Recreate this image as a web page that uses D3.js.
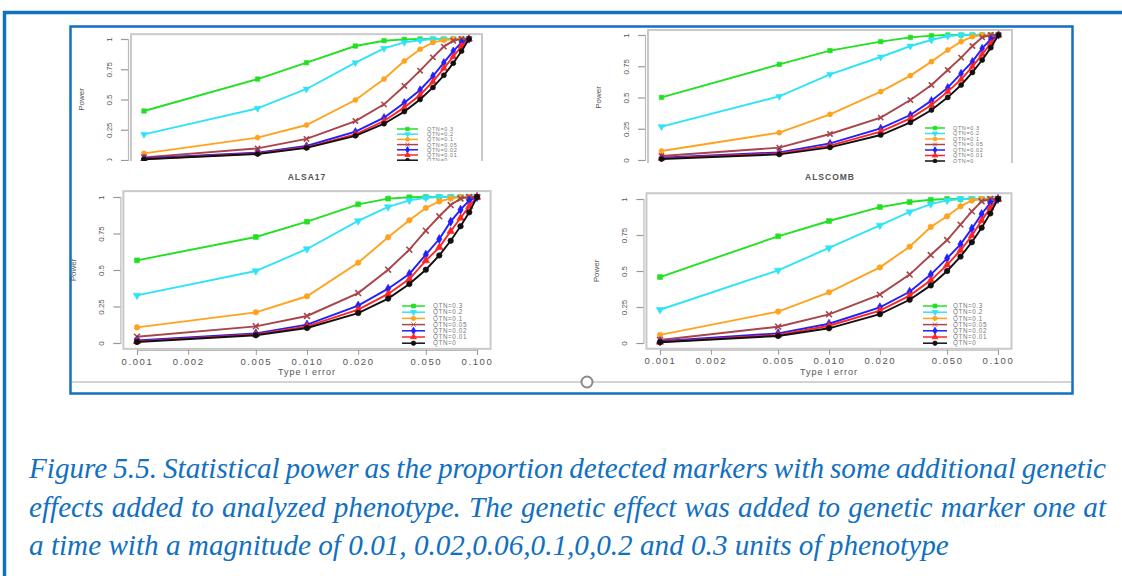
<!DOCTYPE html>
<html><head><meta charset="utf-8">
<script src="https://cdn.jsdelivr.net/npm/d3@7/dist/d3.min.js"></script>
<style>body{margin:0;background:#fff}svg{display:block}</style>
</head><body>
<svg id="chart" width="1122" height="576"></svg>
<script>
// ---------- data ----------
const typeIError = [0.001, 0.005, 0.01, 0.02, 0.03, 0.04, 0.05, 0.06, 0.07, 0.08, 0.09, 0.1];
const seriesNames = ["QTN=0.3", "QTN=0.2", "QTN=0.1", "QTN=0.05", "QTN=0.02", "QTN=0.01", "QTN=0"];
const seriesColors = ["#22e022", "#2fe3f7", "#ffa31f", "#a8454a", "#1f1fff", "#ff2424", "#111111"];
const seriesShapes = ["square", "triDown", "circle", "cross", "diamond", "triangle", "circle"];
const xTickValues = [0.001, 0.002, 0.005, 0.01, 0.02, 0.05, 0.1];
const xTickLabels = ["0.001", "0.002", "0.005", "0.010", "0.020", "0.050", "0.100"];
const yTickValues = [0, 0.25, 0.5, 0.75, 1];
const yTickLabels = ["0", "0.25", "0.5", "0.75", "1"];
const panelTitles = ["ALSA17", "ALSCOMB"];
const captionLines = [
  "Figure 5.5. Statistical power as the proportion detected markers with some additional genetic",
  "effects added to analyzed phenotype. The genetic effect was added to genetic marker one at",
  "a time with a magnitude of 0.01, 0.02,0.06,0.1,0,0.2 and 0.3 units of phenotype"
];

// power values, rows follow seriesNames
const powerTopLeft = [
  [0.405, 0.669, 0.804, 0.942, 0.986, 0.997, 1, 1, 1, 1, 1, 1],
  [0.212, 0.427, 0.587, 0.804, 0.923, 0.972, 0.99, 1, 1, 1, 1, 1],
  [0.055, 0.185, 0.289, 0.496, 0.669, 0.818, 0.915, 0.972, 0.99, 1, 1, 1],
  [0.022, 0.096, 0.174, 0.322, 0.46, 0.612, 0.738, 0.848, 0.937, 0.986, 1, 1],
  [0.014, 0.061, 0.116, 0.234, 0.35, 0.474, 0.579, 0.694, 0.804, 0.9, 0.97, 1],
  [0.008, 0.055, 0.105, 0.212, 0.322, 0.435, 0.537, 0.647, 0.758, 0.854, 0.942, 1],
  [0.006, 0.05, 0.1, 0.2, 0.3, 0.4, 0.5, 0.6, 0.7, 0.8, 0.9, 1]
];
const powerTopRight = [
  [0.501, 0.765, 0.875, 0.947, 0.981, 0.995, 1, 1, 1, 1, 1, 1],
  [0.267, 0.509, 0.685, 0.824, 0.912, 0.96, 0.992, 1, 1, 1, 1, 1],
  [0.072, 0.219, 0.365, 0.547, 0.675, 0.787, 0.88, 0.947, 0.987, 1, 1, 1],
  [0.032, 0.099, 0.208, 0.339, 0.48, 0.6, 0.72, 0.819, 0.912, 0.981, 1, 1],
  [0.019, 0.061, 0.133, 0.253, 0.36, 0.475, 0.579, 0.693, 0.787, 0.893, 0.965, 1],
  [0.013, 0.053, 0.115, 0.227, 0.333, 0.44, 0.547, 0.645, 0.747, 0.845, 0.933, 1],
  [0.008, 0.045, 0.101, 0.2, 0.301, 0.4, 0.501, 0.6, 0.701, 0.8, 0.899, 1]
];
const powerBottomLeft = [
  [0.566, 0.726, 0.831, 0.95, 0.989, 0.998, 1, 1, 1, 1, 1, 1],
  [0.326, 0.493, 0.644, 0.836, 0.932, 0.977, 0.995, 1, 1, 1, 1, 1],
  [0.107, 0.21, 0.32, 0.55, 0.724, 0.84, 0.925, 0.97, 0.99, 1, 1, 1],
  [0.043, 0.114, 0.185, 0.342, 0.502, 0.639, 0.769, 0.868, 0.945, 0.989, 1, 1],
  [0.018, 0.066, 0.126, 0.256, 0.372, 0.473, 0.605, 0.712, 0.831, 0.913, 0.975, 1],
  [0.011, 0.059, 0.114, 0.228, 0.336, 0.438, 0.564, 0.655, 0.765, 0.856, 0.936, 1],
  [0.007, 0.053, 0.103, 0.205, 0.304, 0.404, 0.502, 0.6, 0.7, 0.8, 0.895, 1]
];
const powerBottomRight = [
  [0.458, 0.741, 0.847, 0.944, 0.979, 0.995, 1, 1, 1, 1, 1, 1],
  [0.231, 0.505, 0.66, 0.817, 0.91, 0.965, 0.99, 1, 1, 1, 1, 1],
  [0.056, 0.218, 0.352, 0.525, 0.669, 0.806, 0.88, 0.949, 0.99, 1, 1, 1],
  [0.021, 0.113, 0.199, 0.336, 0.475, 0.611, 0.715, 0.822, 0.914, 0.984, 1, 1],
  [0.012, 0.067, 0.134, 0.248, 0.356, 0.475, 0.588, 0.685, 0.794, 0.896, 0.972, 1],
  [0.007, 0.056, 0.12, 0.225, 0.329, 0.435, 0.542, 0.644, 0.745, 0.85, 0.938, 1],
  [0.005, 0.049, 0.102, 0.2, 0.3, 0.4, 0.5, 0.6, 0.7, 0.8, 0.9, 1]
];

// ---------- layout ----------
const panels = [
  {data: powerTopLeft, x0: 144, x1: 469, y0: 160, y1: 39, clipBottom: 161, showX: false,
   leg: {lx0: 397, lx1: 418, tx: 427, y: 129, dy: 5.2, fs: 5.5, ms: 12}, ms: 20},
  {data: powerTopRight, x0: 661.5, x1: 998.5, y0: 160, y1: 35, clipBottom: 163, showX: false,
   leg: {lx0: 925, lx1: 945, tx: 953, y: 128, dy: 5.5, fs: 5.5, ms: 12}, ms: 20},
  {data: powerBottomLeft, x0: 137, x1: 477, y0: 343, y1: 197, clipBottom: 400, showX: true,
   leg: {lx0: 402, lx1: 425, tx: 433, y: 306, dy: 6.2, fs: 6.3, ms: 15}, ms: 24},
  {data: powerBottomRight, x0: 660, x1: 998, y0: 343, y1: 199, clipBottom: 400, showX: true,
   leg: {lx0: 923, lx1: 947, tx: 953, y: 306, dy: 6.2, fs: 6.3, ms: 15}, ms: 24}
];

const svg = d3.select("#chart");
const blue = "#1270c0";

// frames
svg.append("path").attr("d", "M4.5,576V12.5H1122").attr("fill", "none")
  .attr("stroke", blue).attr("stroke-width", 3.5);
svg.append("rect").attr("x", 70.5).attr("y", 26.5).attr("width", 1002).attr("height", 367)
  .attr("fill", "none").attr("stroke", blue).attr("stroke-width", 2.5);
svg.append("line").attr("x1", 72).attr("x2", 1071).attr("y1", 382).attr("y2", 382)
  .attr("stroke", "#c4c4c4").attr("stroke-width", 1.5);
svg.append("circle").attr("cx", 587).attr("cy", 382).attr("r", 5.5)
  .attr("fill", "#fff").attr("stroke", "#8a8a8a").attr("stroke-width", 2);

function symbolPath(shape, size) {
  const map = {square: d3.symbolSquare, circle: d3.symbolCircle, cross: d3.symbolTimes,
    diamond: d3.symbolDiamond, triangle: d3.symbolTriangle, triDown: d3.symbolTriangle};
  return d3.symbol().type(map[shape]).size(size)();
}

const defs = svg.append("defs");
panels.forEach((p, pi) => {
  const x = d3.scaleLog().domain([0.001, 0.1]).range([p.x0, p.x1]);
  const y = d3.scaleLinear().domain([0, 1]).range([p.y0, p.y1]);
  const ext = 0.04;
  const bx0 = p.x0 - ext * (p.x1 - p.x0), bx1 = p.x1 + ext * (p.x1 - p.x0);
  const by0 = p.y0 + ext * (p.y0 - p.y1), by1 = p.y1 - ext * (p.y0 - p.y1);
  defs.append("clipPath").attr("id", "clip" + pi).append("rect")
    .attr("x", 0).attr("y", 0).attr("width", 1122).attr("height", p.clipBottom);
  const g = svg.append("g").attr("clip-path", `url(#clip${pi})`);

  // box
  g.append("rect").attr("x", bx0).attr("y", by1).attr("width", bx1 - bx0).attr("height", by0 - by1)
    .attr("fill", "none").attr("stroke", "#c9c9c9").attr("stroke-width", 2);

  // y axis
  const ya = d3.axisLeft(y).tickValues(yTickValues).tickFormat((d, i) => yTickLabels[i])
    .tickSize(7).tickPadding(6);
  const yg = g.append("g").attr("transform", `translate(${bx0 - 3},0)`).call(ya);
  yg.select(".domain").attr("stroke", "#bbb").attr("stroke-width", 1.2);
  yg.selectAll(".tick line").attr("stroke", "#999").attr("stroke-width", 1.2);
  yg.selectAll(".tick text").attr("font-family", "Liberation Sans, Arial, sans-serif")
    .attr("font-size", 8).attr("fill", "#555")
    .attr("x", -19).attr("dy", "0.32em").attr("text-anchor", "middle")
    .attr("transform", "rotate(-90,-19,0)");

  g.append("text").attr("transform", `translate(${bx0 - 47},${(p.y0 + p.y1) / 2}) rotate(-90)`)
    .attr("text-anchor", "middle").attr("font-family", "Liberation Sans, Arial, sans-serif")
    .attr("font-size", 8).attr("fill", "#555").text("Power");

  // x axis
  if (p.showX) {
    const xa = d3.axisBottom(x).tickValues(xTickValues).tickFormat((d, i) => xTickLabels[i])
      .tickSize(5).tickPadding(3);
    const xg = g.append("g").attr("transform", `translate(0,${by0 + 1})`).call(xa);
    xg.select(".domain").attr("stroke", "#bbb").attr("stroke-width", 1.2);
    xg.selectAll(".tick line").attr("stroke", "#999");
    xg.selectAll(".tick text").attr("font-family", "Liberation Sans, Arial, sans-serif")
      .attr("font-size", 9.5).attr("fill", "#555").attr("letter-spacing", 1.6);
    g.append("text").attr("x", (p.x0 + p.x1) / 2).attr("y", 375).attr("text-anchor", "middle")
      .attr("font-family", "Liberation Sans, Arial, sans-serif").attr("font-size", 9)
      .attr("letter-spacing", 1).attr("fill", "#555").text("Type I error");
  }

  // series
  const line = d3.line().x((d, i) => x(typeIError[i])).y(d => y(d));
  p.data.forEach((vals, si) => {
    const col = seriesColors[si];
    g.append("path").datum(vals).attr("d", line).attr("fill", "none")
      .attr("stroke", col).attr("stroke-width", 1.9);
    g.selectAll(null).data(vals).enter().append("path")
      .attr("d", symbolPath(seriesShapes[si], p.ms))
      .attr("transform", (d, i) => `translate(${x(typeIError[i])},${y(d)})${seriesShapes[si] === "triDown" ? " rotate(180)" : ""}`)
      .attr("fill", seriesShapes[si] === "cross" ? "none" : col)
      .attr("stroke", col).attr("stroke-width", seriesShapes[si] === "cross" ? 1.6 : 0.6);
  });

  // legend
  const L = p.leg;
  seriesNames.forEach((name, si) => {
    const yy = L.y + si * L.dy;
    const col = seriesColors[si];
    g.append("line").attr("x1", L.lx0).attr("x2", L.lx1).attr("y1", yy).attr("y2", yy)
      .attr("stroke", col).attr("stroke-width", 1.5);
    g.append("path").attr("d", symbolPath(seriesShapes[si], L.ms))
      .attr("transform", `translate(${(L.lx0 + L.lx1) / 2},${yy})${seriesShapes[si] === "triDown" ? " rotate(180)" : ""}`)
      .attr("fill", seriesShapes[si] === "cross" ? "none" : col).attr("stroke", col).attr("stroke-width", 0.8);
    g.append("text").attr("x", L.tx).attr("y", yy).attr("dy", "0.35em")
      .attr("font-family", "Liberation Sans, Arial, sans-serif").attr("font-size", L.fs)
      .attr("letter-spacing", 0.6).attr("fill", "#777").text(name);
  });
});

// panel titles (visible between rows)
[[307, panelTitles[0]], [830, panelTitles[1]]].forEach(([cx, t]) => {
  svg.append("text").attr("x", cx).attr("y", 180).attr("text-anchor", "middle")
    .attr("font-family", "Liberation Sans, Arial, sans-serif").attr("font-weight", "bold")
    .attr("font-size", 8.5).attr("letter-spacing", 1).attr("fill", "#555").text(t);
});

// caption: justified paragraph; last line sets the font size
const capY = [478, 517, 555];
const capX = 29, capRight = 1106, lastLineRight = 949;
const capTexts = captionLines.map((t, i) =>
  svg.append("text").attr("x", capX).attr("y", capY[i])
    .attr("font-family", "Liberation Serif, 'Times New Roman', serif").attr("font-style", "italic")
    .attr("font-size", 26).attr("fill", blue).text(t));
const wLast = capTexts[2].node().getComputedTextLength();
const fs = 26 * ((lastLineRight - capX) / wLast);
capTexts.forEach(t => t.attr("font-size", fs));
[0, 1].forEach(i => {
  const t = capTexts[i];
  const w = t.node().getComputedTextLength();
  const spaces = (captionLines[i].match(/ /g) || []).length;
  t.attr("word-spacing", (capRight - capX - w) / spaces);
});
</script>
</body></html>
